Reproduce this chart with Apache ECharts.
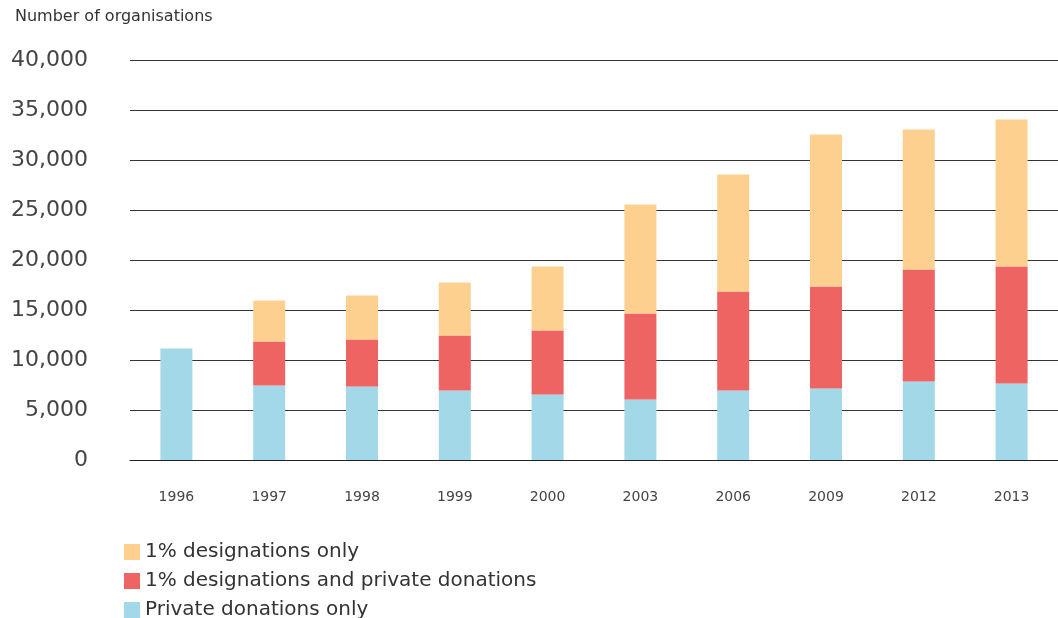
<!DOCTYPE html>
<html>
<head>
<meta charset="utf-8">
<script src="https://cdn.jsdelivr.net/npm/echarts@6/dist/echarts.min.js"></script>
<style>html,body{margin:0;padding:0;background:#fff;}#c{width:1058px;height:618px;}</style>
</head>
<body>
<div id="c"></div>
<script>
var categories = ['1996','1997','1998','1999','2000','2003','2006','2009','2012','2013'];
var privateOnly = [11150, 7450, 7350, 6950, 6550, 6050, 6950, 7150, 7850, 7650];
var bothDesignations = [0, 4400, 4700, 5500, 6400, 8600, 9900, 10200, 11200, 11700];
var designationsOnly = [0, 4100, 4400, 5300, 6400, 10900, 11700, 15200, 14000, 14700];
var yTicks = [0, 5000, 10000, 15000, 20000, 25000, 30000, 35000, 40000];
var seriesNames = ['1% designations only', '1% designations and private donations', 'Private donations only'];

var font = 'DejaVu Sans';
var chart = echarts.init(document.getElementById('c'));
chart.setOption({
  animation: false,
  textStyle: {fontFamily: font},
  title: {
    text: 'Number of organisations',
    left: 15, top: 9, padding: 0,
    textStyle: {fontFamily: font, fontSize: 16, fontWeight: 'normal', color: '#333'}
  },
  legend: {
    orient: 'vertical',
    left: 124, top: 542, height: 100, padding: 0,
    itemWidth: 16, itemHeight: 16, itemGap: 9,
    icon: 'rect',
    data: seriesNames,
    textStyle: {fontFamily: font, fontSize: 20, color: '#333'}
  },
  grid: {left: 130, right: -3, top: 60, bottom: 158},
  xAxis: {
    type: 'category',
    data: categories,
    axisLine: {show: true, lineStyle: {color: '#222', width: 1}},
    axisTick: {show: false},
    axisLabel: {fontFamily: font, fontSize: 14, color: '#444', margin: 30}
  },
  yAxis: {
    type: 'value',
    min: yTicks[0], max: yTicks[yTicks.length-1], interval: 5000,
    axisLine: {show: false},
    axisTick: {show: false},
    splitLine: {lineStyle: {color: '#333', width: 1}},
    axisLabel: {
      fontFamily: font, fontSize: 22, color: '#444', margin: 42,
      formatter: function (v) { return v === 0 ? '0' : v.toLocaleString('en-US'); }
    }
  },
  series: [
    {name: seriesNames[2], type: 'bar', stack: 's', barWidth: 32, data: privateOnly, itemStyle: {color: '#A3D8E8'}},
    {name: seriesNames[1], type: 'bar', stack: 's', barWidth: 32, data: bothDesignations, itemStyle: {color: '#EE6463'}},
    {name: seriesNames[0], type: 'bar', stack: 's', barWidth: 32, data: designationsOnly, itemStyle: {color: '#FDD08F'}}
  ]
});
</script>
</body>
</html>
